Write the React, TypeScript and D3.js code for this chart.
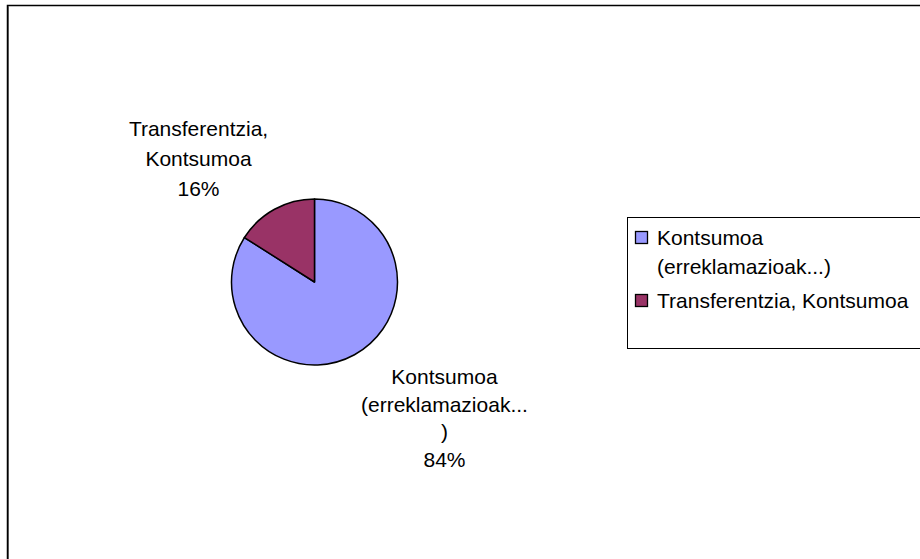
import { useRef, useEffect } from "react";
import * as d3 from "d3";

const categories = ["Kontsumoa (erreklamazioak...)", "Transferentzia, Kontsumoa"];
const shares = [84, 16];
const colors = ["#9999FF", "#993366"];
const labelLines = [
  ["Kontsumoa", "(erreklamazioak...", ")", "84%"],
  ["Transferentzia,", "Kontsumoa", "16%"],
];
const legendLines = [["Kontsumoa", "(erreklamazioak...)"], ["Transferentzia, Kontsumoa"]];

export default function App() {
  const svgRef = useRef<SVGSVGElement>(null);

  useEffect(() => {
    if (!svgRef.current) return;
    const width = 920;
    const height = 559;
    const svg = d3.select(svgRef.current);
    svg.selectAll("*").remove();
    svg.attr("width", width).attr("height", height);

    const font = "'Liberation Sans', Arial, sans-serif";
    const fs = 21;

    svg.append("rect").attr("width", width).attr("height", height).attr("fill", "#fff");

    // chart frame (runs off the right and bottom edge)
    svg
      .append("rect")
      .attr("x", 7.5)
      .attr("y", 5.5)
      .attr("width", width + 20)
      .attr("height", height + 20)
      .attr("fill", "none")
      .attr("stroke", "#000")
      .attr("stroke-width", 1.5);
    svg
      .append("line")
      .attr("x1", 8.5)
      .attr("x2", 8.5)
      .attr("y1", 6)
      .attr("y2", height)
      .attr("stroke", "#555")
      .attr("stroke-width", 1);

    const cx = 314.5;
    const cy = 282;
    const r = 83;

    const pie = d3.pie<number>().sort(null).value((d) => d);
    const arcs = pie(shares);
    const arc = d3.arc<d3.PieArcDatum<number>>().innerRadius(0).outerRadius(r);

    const g = svg.append("g").attr("transform", `translate(${cx},${cy})`);
    g.selectAll("path")
      .data(arcs)
      .join("path")
      .attr("d", arc)
      .attr("fill", (_, i) => colors[i])
      .attr("stroke", "#000")
      .attr("stroke-width", 1.5)
      .attr("stroke-linejoin", "round");

    // data labels
    const labelArc = d3.arc<d3.PieArcDatum<number>>().innerRadius(r * 1.8).outerRadius(r * 1.8);
    const nudge = [
      [58, 5],
      [-44, 8],
    ];
    const lineH = [27.5, 30];
    arcs.forEach((a, i) => {
      const [lx, ly] = labelArc.centroid(a);
      const lines = labelLines[i];
      const x = cx + lx + nudge[i][0];
      const y0 = cy + ly + nudge[i][1] - ((lines.length - 1) * lineH[i]) / 2;
      const t = svg
        .append("text")
        .attr("font-family", font)
        .attr("font-size", fs)
        .attr("fill", "#000")
        .attr("text-anchor", "middle");
      lines.forEach((line, j) => {
        t.append("tspan")
          .attr("x", x)
          .attr("y", y0 + j * lineH[i])
          .attr("dy", "0.35em")
          .text(line);
      });
    });

    // legend
    const lg = svg.append("g").attr("transform", "translate(627.5,217.5)");
    lg.append("rect")
      .attr("width", 320)
      .attr("height", 131)
      .attr("fill", "#fff")
      .attr("stroke", "#000")
      .attr("stroke-width", 1);
    const itemY = d3.scaleBand<string>().domain(categories).range([20, 146]);
    categories.forEach((c, i) => {
      const yy = itemY(c) ?? 0;
      lg.append("rect")
        .attr("x", 8)
        .attr("y", yy - 6)
        .attr("width", 12)
        .attr("height", 12)
        .attr("fill", colors[i])
        .attr("stroke", "#000")
        .attr("stroke-width", 1.3);
      legendLines[i].forEach((line, j) => {
        lg.append("text")
          .attr("x", 29.5)
          .attr("y", yy + j * 29)
          .attr("dy", "0.35em")
          .attr("font-family", font)
          .attr("font-size", fs)
          .attr("fill", "#000")
          .text(line);
      });
    });
  }, []);

  return (
    <svg
      ref={svgRef}
      style={{ position: "absolute", left: 0, top: 0, display: "block" }}
    />
  );
}
